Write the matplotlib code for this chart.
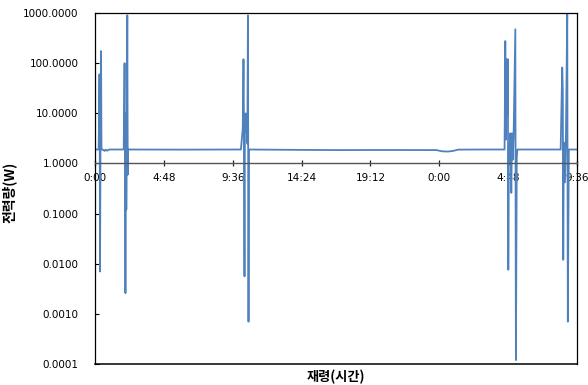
import matplotlib
matplotlib.use('Agg')
import matplotlib.pyplot as plt
from matplotlib.ticker import FixedLocator, FuncFormatter

hours = [0.00, 0.25, 0.28, 0.31, 0.33, 0.35, 0.38, 0.42, 0.45, 0.50,
         0.60, 0.66, 0.75, 0.85, 0.92, 1.00,
         2.00, 2.06, 2.09, 2.12, 2.15, 2.16, 2.18, 2.21, 2.25, 2.28, 2.30,
         6.00, 10.17, 10.30, 10.35, 10.38, 10.42, 10.45, 10.50, 10.56,
         10.62, 10.66, 10.70, 10.73,
         14.0, 17.0, 20.0, 23.8, 24.2, 24.6, 25.0, 25.3,
         27.0, 28.55, 28.60, 28.64, 28.69, 28.74, 28.78, 28.81, 28.85,
         28.90, 28.95, 29.02, 29.07, 29.12, 29.18, 29.30, 29.34, 29.40, 29.44,
         31.0, 32.46, 32.57, 32.61, 32.64, 32.68, 32.76, 32.83, 32.92, 32.96,
         33.03, 33.60]
watts = [1.9, 1.9, 6.0, 60, 1.5, 0.007, 2.0, 175, 1.9, 1.9,
         1.85, 1.78, 1.88, 1.80, 1.86, 1.9,
         1.9, 100, 1.0, 0.0026, 1.5, 10, 0.12, 2.0, 900, 0.6, 1.9,
         1.89, 1.9, 5.0, 120, 6.0, 0.0056, 8.0, 10, 5.0,
         2.5, 900, 0.0007, 1.9,
         1.87, 1.85, 1.86, 1.85, 1.75, 1.73, 1.79, 1.89,
         1.9, 1.9, 277, 3.0, 120, 9.0, 120, 0.0076, 2.2,
         1.0, 4.0, 0.26, 4.0, 1.2, 3.5, 475, 0.00012, 1.3, 1.9,
         1.9, 1.9, 82, 28, 0.012, 2.6, 0.42, 4.1, 1000, 0.0007,
         1.9, 1.9]

x_ticks = [0, 4.8, 9.6, 14.4, 19.2, 24.0, 28.8, 33.6]
x_tick_labels = ['0:00', '4:48', '9:36', '14:24', '19:12', '0:00', '4:48', '9:36']
y_ticks = [1e-4, 1e-3, 1e-2, 1e-1, 1, 10, 100, 1000]

kr = ['Noto Sans CJK KR', 'DejaVu Sans']

fig = plt.figure(figsize=(5.88, 3.85), dpi=100)
ax = fig.add_axes([0.1616, 0.0545, 0.8197, 0.9115])

ax.plot(hours, watts, color='#4F81BD', linewidth=1.3)

ax.set_yscale('log')
ax.set_ylim(1e-4, 1000)
ax.set_xlim(0, 33.6)

ax.yaxis.set_major_locator(FixedLocator(y_ticks))
ax.yaxis.set_minor_locator(FixedLocator([]))
ax.yaxis.set_major_formatter(FuncFormatter(lambda v, p: '%.4f' % v))
ax.xaxis.set_major_locator(FixedLocator(x_ticks))
ax.set_xticklabels(x_tick_labels)

# x axis crosses at 1 W, frame kept around the plot area
ax.spines['bottom'].set_position(('data', 1))
ax.spines['bottom'].set_color('#555555')
ax.spines['bottom'].set_linewidth(1.0)
for s in ['top', 'left', 'right']:
    ax.spines[s].set_color('black')
    ax.spines[s].set_linewidth(0.9)
ax.plot([0, 1], [0, 0], transform=ax.transAxes, color='black',
        linewidth=1.1, clip_on=False)

ax.tick_params(axis='x', direction='inout', length=5, width=0.9,
               color='#222222', labelsize=7.5, pad=4)
ax.tick_params(axis='y', direction='in', length=3, width=0.8,
               labelsize=7.5, pad=12)

ax.set_xlabel('재령(시간)', family=kr, fontweight='bold', fontsize=9.5)
ax.set_ylabel('전력량(W)', family=kr, fontweight='bold', fontsize=10)
ax.xaxis.set_label_coords(0.5, -0.015)
ax.yaxis.set_label_coords(-0.163, 0.49)

fig.savefig('out.png', dpi=100)
